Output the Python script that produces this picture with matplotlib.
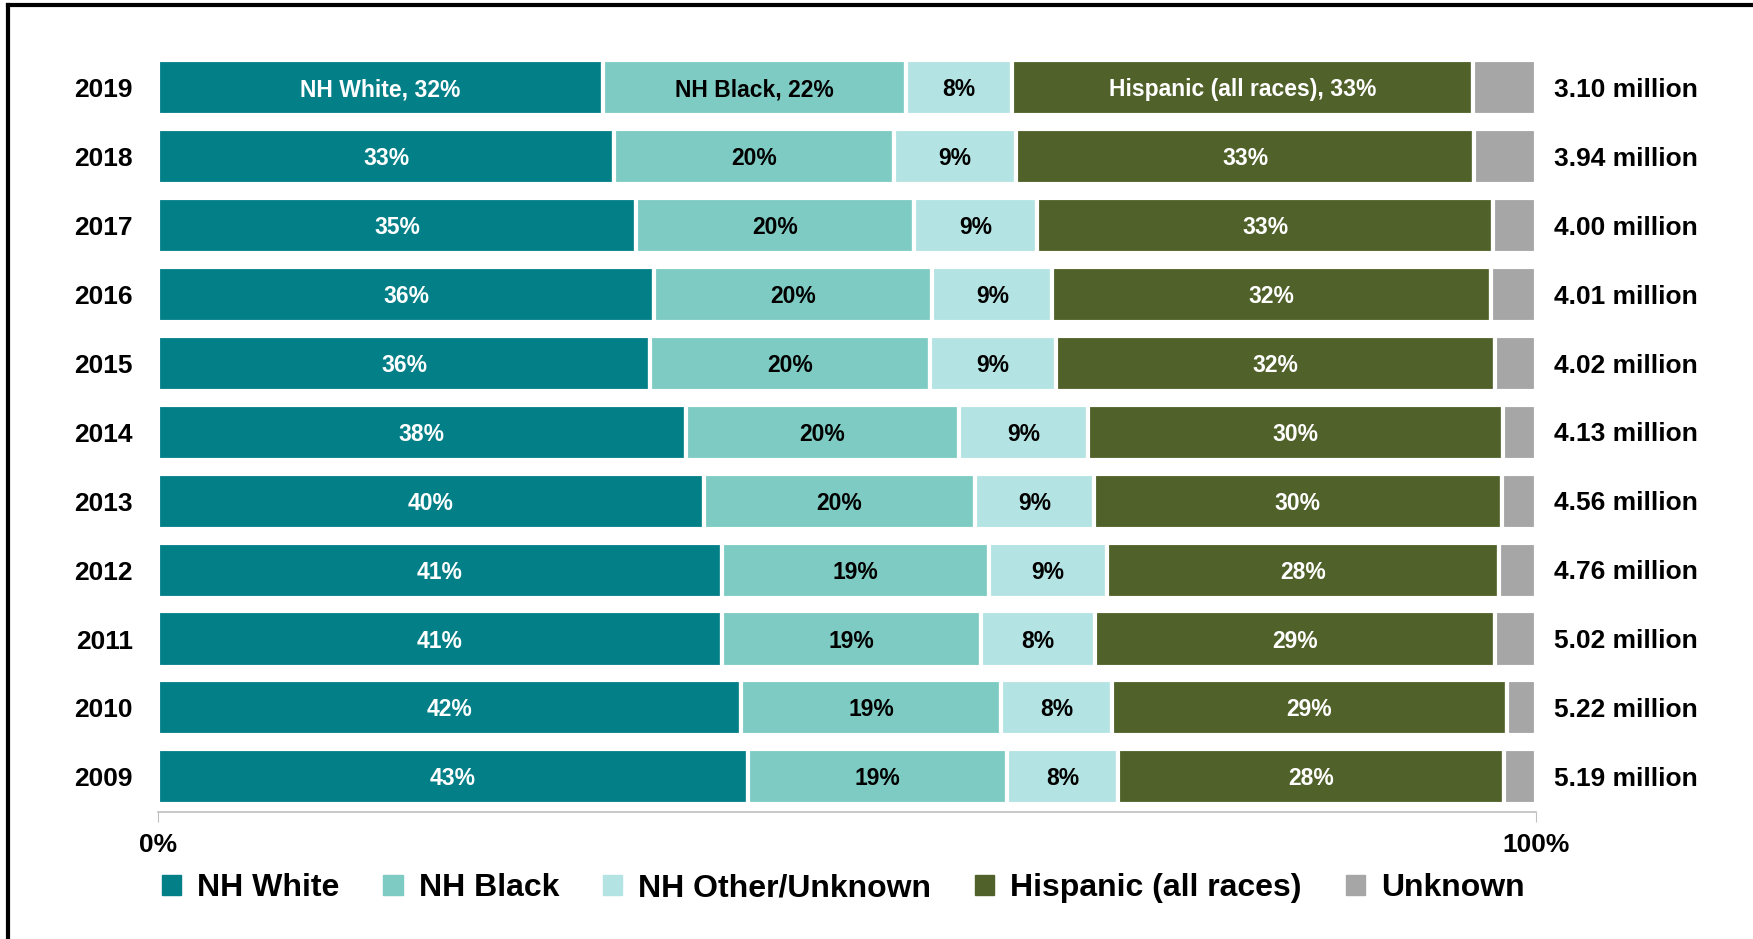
import numpy as np
import matplotlib.pyplot as plt
from matplotlib.lines import Line2D

# fonts - arial-like bold
plt.rcParams['font.family'] = ['Liberation Sans', 'DejaVu Sans']
plt.rcParams['font.weight'] = 'bold'

# data (top row first)
years = ['2019', '2018', '2017', '2016', '2015', '2014', '2013', '2012', '2011', '2010', '2009']
totals = ['3.10 million', '3.94 million', '4.00 million', '4.01 million', '4.02 million',
          '4.13 million', '4.56 million', '4.76 million', '5.02 million', '5.22 million',
          '5.19 million']

nh_white = [32.3, 33.1, 34.7, 36.0, 35.7, 38.3, 39.6, 40.9, 40.9, 42.3, 42.8]
nh_black = [22.0, 20.3, 20.2, 20.2, 20.3, 19.8, 19.7, 19.4, 18.8, 18.9, 18.8]
nh_other = [7.7, 8.9, 8.9, 8.7, 9.2, 9.4, 8.6, 8.6, 8.3, 8.0, 8.1]
hispanic = [33.4, 33.2, 33.1, 31.8, 31.8, 30.1, 29.6, 28.4, 29.0, 28.7, 28.0]
unknown = [4.6, 4.5, 3.1, 3.3, 3.0, 2.4, 2.5, 2.7, 3.0, 2.1, 2.3]

groups = ['NH White', 'NH Black', 'NH Other/Unknown', 'Hispanic (all races)', 'Unknown']
colors = ['#037f87', '#7ecbc3', '#b3e3e2', '#50612a', '#a6a6a6']
text_colors = ['white', 'black', 'black', 'white', None]
first_row_names = ['NH White', 'NH Black', None, 'Hispanic (all races)', None]

fig = plt.figure(figsize=(17.53, 9.39), dpi=100)
ax = fig.add_axes([0.0901, 0.1353, 0.7861, 0.8115])

y = np.arange(len(years))
left = np.zeros(len(years))
series = [nh_white, nh_black, nh_other, hispanic, unknown]

for k, vals in enumerate(series):
    vals = np.array(vals)
    ax.barh(y, vals, left=left, height=0.8, color=colors[k],
            edgecolor='white', linewidth=3, label=groups[k])
    if text_colors[k] is not None:
        for i in range(len(years)):
            txt = f"{vals[i]:.0f}%"
            if i == 0 and first_row_names[k] is not None:
                txt = f"{first_row_names[k]}, {txt}"
            ax.text(left[i] + vals[i] / 2, y[i] + 0.03, txt, ha='center', va='center',
                    color=text_colors[k], fontsize=16.5, fontweight='bold')
    left = left + vals

# totals on right
for i in range(len(years)):
    ax.text(101.3, y[i] + 0.03, totals[i], ha='left', va='center', fontsize=19,
            fontweight='bold', color='black')

ax.set_xlim(0, 100)
ax.set_ylim(10.51, -0.55)
ax.set_yticks(y)
ax.set_yticklabels(years, fontsize=19, fontweight='bold')
ax.tick_params(axis='y', length=0, pad=18)
ax.set_xticks([0, 100])
ax.set_xticklabels(['0%', '100%'], fontsize=19, fontweight='bold')
ax.tick_params(axis='x', length=7, color='#bfbfbf', pad=8)

for s in ['top', 'right', 'left']:
    ax.spines[s].set_visible(False)
ax.spines['bottom'].set_color('#bfbfbf')
ax.spines['bottom'].set_linewidth(1.2)

# legend
handles = [plt.Rectangle((0, 0), 1, 1, color=c) for c in colors]
fig.legend(handles, groups, loc='center left', bbox_to_anchor=(0.0923, 0.054),
           ncol=5, frameon=False, fontsize=23, handlelength=0.6, handleheight=0.6,
           handletextpad=0.5, columnspacing=1.38, borderpad=0, borderaxespad=0)

# frame lines (top and left only)
fig.add_artist(Line2D([0.0045, 1], [0.9945, 0.9945], color='black', linewidth=3,
                      transform=fig.transFigure))
fig.add_artist(Line2D([0.0045, 0.0045], [0, 0.9945], color='black', linewidth=3,
                      transform=fig.transFigure))

plt.savefig('out.png', dpi=100)
